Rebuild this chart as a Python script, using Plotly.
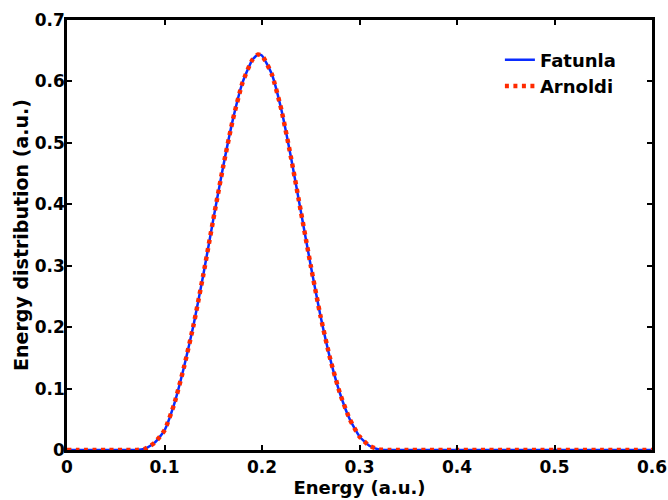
import plotly.graph_objects as go

energy = [0.00, 0.01, 0.02, 0.03, 0.04, 0.05, 0.06, 0.07, 0.08, 0.09,
          0.10, 0.11, 0.12, 0.13, 0.14, 0.15, 0.16, 0.17, 0.18, 0.19, 0.196,
          0.20, 0.21, 0.22, 0.23, 0.24, 0.25, 0.26, 0.27, 0.28, 0.29, 0.30,
          0.31, 0.32, 0.33, 0.34, 0.35, 0.40, 0.45, 0.50, 0.55, 0.60]
fatunla = [0.0, 0.0, 0.0, 0.0, 0.0, 0.0, 0.0, 0.0, 0.002, 0.012,
           0.032, 0.075, 0.135, 0.205, 0.287, 0.375, 0.460, 0.537, 0.598, 0.635, 0.644,
           0.642, 0.612, 0.553, 0.474, 0.387, 0.300, 0.218, 0.148, 0.092, 0.050, 0.022,
           0.007, 0.001, 0.0, 0.0, 0.0, 0.0, 0.0, 0.0, 0.0, 0.0]
arnoldi = [0.0, 0.0, 0.0, 0.0, 0.0, 0.0, 0.0, 0.0, 0.002, 0.012,
           0.032, 0.075, 0.135, 0.205, 0.287, 0.375, 0.460, 0.537, 0.598, 0.635, 0.644,
           0.642, 0.612, 0.553, 0.474, 0.387, 0.300, 0.218, 0.148, 0.092, 0.050, 0.022,
           0.007, 0.001, 0.0, 0.0, 0.0, 0.0, 0.0, 0.0, 0.0, 0.0]

x_ticks = [0, 0.1, 0.2, 0.3, 0.4, 0.5, 0.6]
x_tick_text = ["0", "0.1", "0.2", "0.3", "0.4", "0.5", "0.6"]
y_ticks = [0, 0.1, 0.2, 0.3, 0.4, 0.5, 0.6, 0.7]
y_tick_text = ["0", "0.1", "0.2", "0.3", "0.4", "0.5", "0.6", "0.7"]

FONT = "DejaVu Sans, Liberation Sans, sans-serif"

fig = go.Figure()
fig.add_trace(go.Scatter(x=energy, y=fatunla, mode="lines", name="Fatunla",
                         line=dict(color="#0a2cff", width=2.5, shape="spline", smoothing=0.5),
                         legendgroup="a"))
fig.add_trace(go.Scatter(x=energy, y=arnoldi, mode="lines", name="Arnoldi",
                         line=dict(color="#ff2a00", width=4.5, dash="4px,4.5px", shape="spline", smoothing=0.5),
                         legendgroup="b"))

axis_common = dict(showgrid=False, zeroline=False, showline=True, linecolor="black", linewidth=2.5,
                   mirror="ticks", ticks="inside", ticklen=5, tickwidth=1.5, tickcolor="black",
                   automargin=False,
                   tickfont=dict(family=FONT, size=17, color="black", weight="bold"))

fig.update_layout(
    width=668, height=500,
    margin=dict(l=67, r=16, t=20, b=50),
    paper_bgcolor="white", plot_bgcolor="white",
    font=dict(family=FONT, color="black"),
    showlegend=True,
    legend=dict(x=0.74, y=0.95, xanchor="left", yanchor="top", bgcolor="rgba(0,0,0,0)",
                borderwidth=0, tracegroupgap=0,
                font=dict(family=FONT, size=18, color="black", weight="bold")),
    xaxis=dict(range=[0, 0.6], tickvals=x_ticks, ticktext=x_tick_text,
               title=dict(text="Energy (a.u.)", standoff=6,
                          font=dict(family=FONT, size=18, color="black", weight="bold")),
               **axis_common),
    yaxis=dict(range=[0, 0.7], tickvals=y_ticks, ticktext=y_tick_text,
               ticklabelstandoff=-4,
               title=dict(text="Energy distribution (a.u.)", standoff=2,
                          font=dict(family=FONT, size=19, color="black", weight="bold")),
               **axis_common),
)

fig.write_html("out.html")
